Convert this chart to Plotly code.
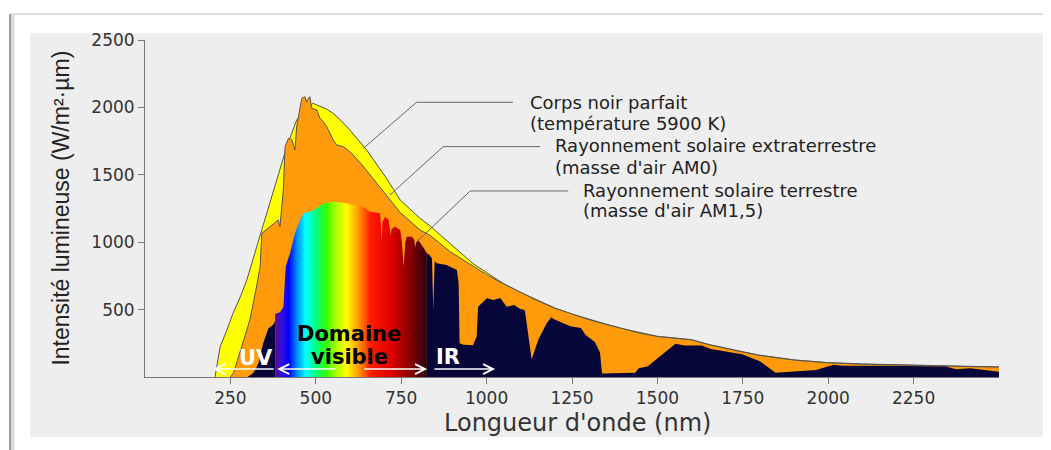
import plotly.graph_objects as go

# values (wavelength in nm, intensity in W/m².µm)
bb_nm = [205, 220, 240, 258, 280, 298, 327, 356, 386, 415, 444, 473, 492, 503, 530,
         551, 575, 600, 649, 708, 747, 805, 835, 893, 961, 1000, 1050, 1100, 1150,
         1200, 1250, 1300, 1350, 1400, 1450, 1500, 1550, 1600, 1650, 1700, 1750,
         1800, 1850, 1900, 1950, 2000, 2100, 2200, 2300, 2400, 2500]
bb_val = [0, 224, 350, 474, 600, 719, 966, 1217, 1461, 1709, 1907, 1996, 2030, 2018, 1990,
          1956, 1900, 1832, 1684, 1470, 1313, 1177, 1120, 990, 840, 775, 692, 627, 567,
          512, 467, 427, 392, 357, 327, 302, 290, 277, 242, 212, 187,
          162, 142, 127, 117, 107, 97, 90, 84, 80, 75]

am0_nm = [250, 259, 280, 307, 325, 337, 342, 366, 390, 395, 405, 410, 420, 430, 439,
          444, 454, 459, 468, 473, 478, 483, 488, 503, 512, 520, 532, 551, 561, 581,
          600, 630, 668, 717, 747, 805, 835, 893, 961, 1000, 1050, 1100, 1150, 1200,
          1250, 1300, 1350, 1400, 1450, 1500, 1550, 1600, 1650, 1700, 1750, 1800,
          1850, 1900, 1950, 2000, 2100, 2200, 2300, 2400, 2500]
am0_val = [0, 30, 200, 423, 650, 818, 1066, 1115, 1165, 1115, 1387, 1709, 1771, 1758, 1684,
           1857, 1981, 2067, 2079, 2040, 2067, 2079, 1993, 1981, 1919, 1900, 1857, 1758, 1721, 1709,
           1671, 1590, 1470, 1320, 1220, 1091, 1050, 930, 820, 760, 690, 625, 565, 510,
           465, 425, 390, 355, 325, 300, 288, 275, 240, 210, 185, 160,
           140, 125, 115, 105, 95, 88, 82, 78, 73]

# terrestrial spectrum (AM1.5), split in UV / visible / IR parts
uv_nm = [300, 317, 332, 346, 361, 376, 381]
uv_val = [0, 30, 100, 250, 360, 390, 420]

vis_nm = [381, 395, 405, 408, 412, 425, 439, 454, 464, 483, 503, 522, 551, 581, 610,
          639, 659, 688, 691, 693, 695, 703, 713, 717, 719, 722, 732, 747, 752, 757,
          762, 766, 781, 788, 791, 794, 800, 815, 825]
vis_val = [470, 480, 520, 700, 820, 920, 1066, 1165, 1215, 1226, 1251, 1288, 1300, 1293, 1276,
           1263, 1226, 1214, 1120, 994, 1150, 1189, 1165, 1080, 1050, 1100, 1115, 1091, 1000, 820,
           1000, 1041, 1041, 1020, 960, 1000, 1016, 960, 918]

ir_nm = [825, 833, 840, 844, 848, 854, 883, 913, 918, 921, 932, 960, 971, 975, 1001,
         1020, 1040, 1059, 1081, 1096, 1112, 1122, 1132, 1145, 1153, 1176, 1189, 1196,
         1219, 1245, 1276, 1290, 1317, 1332, 1338, 1435, 1445, 1471, 1553, 1579, 1630,
         1656, 1748, 1800, 1846, 1964, 2016, 2041, 2170, 2344, 2375, 2416, 2457, 2500]
ir_val = [918, 905, 880, 500, 860, 843, 831, 794, 700, 250, 240, 235, 300, 521, 584,
          571, 586, 521, 534, 508, 495, 300, 130, 230, 286, 398, 443, 430,
          403, 377, 364, 312, 260, 182, 26, 31, 65, 78, 247, 234, 234,
          208, 169, 117, 31, 52, 91, 83, 83, 78, 57, 65, 52, 39]

x_ticks = [250, 500, 750, 1000, 1250, 1500, 1750, 2000, 2250]
y_ticks = [500, 1000, 1500, 2000, 2500]

NAVY = "#06063b"
ORANGE = "#ff9a0a"
YELLOW = "#ffff00"
OUTLINE = "#555555"
TXT = "#333333"

rainbow = [
    [0.0, "#5b0a91"], [0.045, "#3010e0"], [0.09, "#0000ff"], [0.146, "#0090ff"],
    [0.2, "#00ffff"], [0.27, "#00ff80"], [0.337, "#33ff00"], [0.4, "#aaff00"],
    [0.47, "#ffff00"], [0.55, "#ff9900"], [0.63, "#ff1a00"], [0.764, "#e00000"],
    [0.9, "#800000"], [1.0, "#2a0010"],
]

fig = go.Figure()
fig.add_trace(go.Scatter(x=bb_nm, y=bb_val, mode="lines", fill="tozeroy",
                         fillcolor=YELLOW, line=dict(color=OUTLINE, width=1)))
fig.add_trace(go.Scatter(x=am0_nm, y=am0_val, mode="lines", fill="tozeroy",
                         fillcolor=ORANGE, line=dict(color=OUTLINE, width=1)))
fig.add_trace(go.Scatter(x=uv_nm, y=uv_val, mode="lines", fill="tozeroy",
                         fillcolor=NAVY, line=dict(color=NAVY, width=0)))
fig.add_trace(go.Scatter(x=vis_nm, y=vis_val, mode="lines", fill="tozeroy",
                         fillgradient=dict(type="horizontal", colorscale=rainbow),
                         line=dict(width=0)))
fig.add_trace(go.Scatter(x=ir_nm, y=ir_val, mode="lines", fill="tozeroy",
                         fillcolor=NAVY, line=dict(color=NAVY, width=0)))

# labels of the curves: (text, x, y) and leader lines
curve_labels = [
    ("Corps noir parfait", 1122, 2035), ("(température 5900 K)", 1122, 1882),
    ("Rayonnement solaire extraterrestre", 1194, 1714), ("(masse d'air AM0)", 1194, 1556),
    ("Rayonnement solaire terrestre", 1277, 1387), ("(masse d'air AM1,5)", 1277, 1234),
]
leaders = [
    [(639, 1696), (795, 2038), (1077, 2038)],
    [(717, 1350), (873, 1709), (1157, 1709)],
    [(796, 1004), (952, 1380), (1239, 1380)],
]
for text, x, y in curve_labels:
    fig.add_annotation(x=x, y=y, text=text, showarrow=False, xanchor="left",
                       yanchor="middle", font=dict(family="DejaVu Sans", size=18, color="#222"))
for pts in leaders:
    path = "M " + " L ".join(f"{a},{b}" for a, b in pts)
    fig.add_shape(type="path", path=path, xref="x", yref="y",
                  line=dict(color="#666", width=1))

# spectral domain labels and arrows
band_labels = [
    ("UV", 325, 141, "white"), ("Domaine", 597, 319, "black"),
    ("visible", 600, 145, "black"), ("IR", 886, 148, "white"),
]
for text, x, y, col in band_labels:
    fig.add_annotation(x=x, y=y, text=f"<b>{text}</b>", showarrow=False,
                       font=dict(family="DejaVu Sans", size=21, color=col))
band_arrows = [(381, 199), (562, 387), (638, 826), (843, 1025)]
for tail, head in band_arrows:
    fig.add_annotation(x=head, y=59, ax=tail, ay=59, axref="x", ayref="y", text="",
                       showarrow=True, arrowhead=5, arrowsize=1.3, arrowwidth=1.5,
                       arrowcolor="white", standoff=0, startstandoff=0)

# axis titles
fig.add_annotation(x=-0.117, y=0.5, xref="paper", yref="paper", textangle=-90,
                   text="Intensité lumineuse (W/m²·µm)", showarrow=False,
                   font=dict(family="Liberation Sans", size=23, color="#222"))
fig.add_annotation(x=0.507, y=-0.137, xref="paper", yref="paper",
                   text="Longueur d'onde (nm)", showarrow=False, yanchor="middle",
                   font=dict(family="DejaVu Sans", size=24, color=TXT))

# grey panel and picture frame
fig.add_shape(type="rect", xref="paper", yref="paper", x0=-0.1347, x1=1.0539,
              y0=-0.178, y1=1.0208, fillcolor="#eeeeee", line=dict(width=0), layer="below")
fig.add_shape(type="line", xref="paper", yref="paper", x0=-0.155, x1=-0.155,
              y0=-0.22, y1=1.075, line=dict(color="#dddddd", width=4), layer="below")
fig.add_shape(type="line", xref="paper", yref="paper", x0=-0.158, x1=-0.158,
              y0=-0.22, y1=1.077, line=dict(color="#999999", width=2), layer="below")
fig.add_shape(type="line", xref="paper", yref="paper", x0=-0.158, x1=1.1,
              y0=1.077, y1=1.077, line=dict(color="#d0d0d0", width=1.5), layer="below")

axis_common = dict(showgrid=False, zeroline=False, showline=True, linecolor="#777",
                   linewidth=1, ticks="outside", ticklen=6, tickcolor="#777",
                   tickfont=dict(family="DejaVu Sans", size=17, color=TXT))
fig.update_xaxes(range=[0, 2500], tickvals=x_ticks, **axis_common)
fig.update_yaxes(range=[0, 2500], tickvals=y_ticks, **axis_common)

# the page body adds an 8px offset, so the figure is 8px smaller than the window
fig.update_layout(
    width=1043, height=442, showlegend=False,
    margin=dict(l=137, r=52, t=32, b=73),
    paper_bgcolor="white", plot_bgcolor="rgba(0,0,0,0)",
)
fig.write_html("out.html")
